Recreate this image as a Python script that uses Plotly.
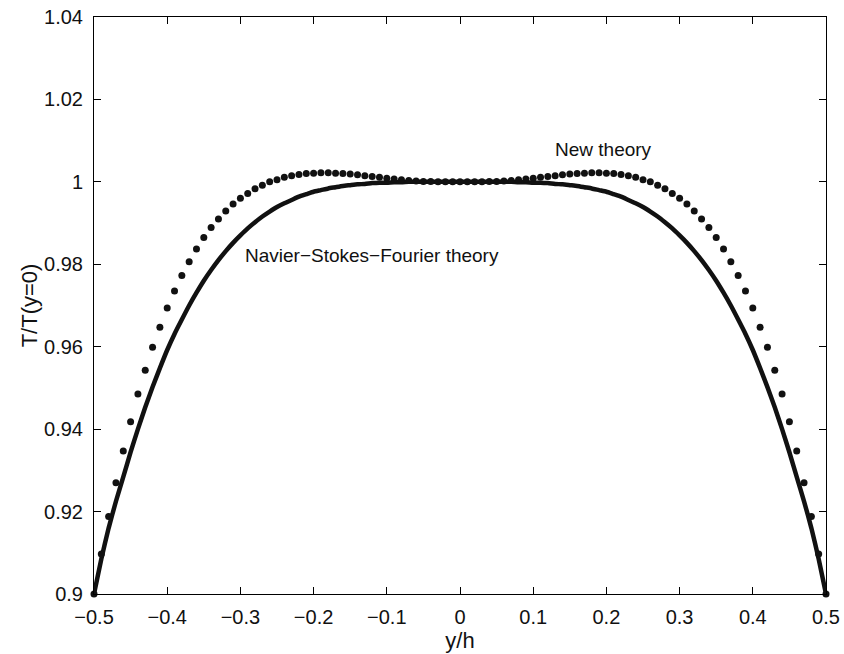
import plotly.graph_objects as go

# --- data ---
x_line = [-0.50, -0.49, -0.48, -0.47, -0.46, -0.45, -0.44, -0.43, -0.42, -0.41,
          -0.40, -0.39, -0.38, -0.37, -0.36, -0.35, -0.34, -0.33, -0.32, -0.31,
          -0.30, -0.29, -0.28, -0.27, -0.26, -0.25, -0.24, -0.23, -0.22, -0.21,
          -0.20, -0.19, -0.18, -0.17, -0.16, -0.15, -0.14, -0.13, -0.12, -0.11,
          -0.10, -0.09, -0.08, -0.07, -0.06, -0.05, -0.04, -0.03, -0.02, -0.01,
          0.00,
          0.01, 0.02, 0.03, 0.04, 0.05, 0.06, 0.07, 0.08, 0.09, 0.10,
          0.11, 0.12, 0.13, 0.14, 0.15, 0.16, 0.17, 0.18, 0.19, 0.20,
          0.21, 0.22, 0.23, 0.24, 0.25, 0.26, 0.27, 0.28, 0.29, 0.30,
          0.31, 0.32, 0.33, 0.34, 0.35, 0.36, 0.37, 0.38, 0.39, 0.40,
          0.41, 0.42, 0.43, 0.44, 0.45, 0.46, 0.47, 0.48, 0.49, 0.50]
nsf_T = [0.9000, 0.9085, 0.9160, 0.9225, 0.9284, 0.9344, 0.9400, 0.9453, 0.9502, 0.9548,
         0.9592, 0.9631, 0.9666, 0.9700, 0.9731, 0.9760, 0.9786, 0.9810, 0.9832, 0.9852,
         0.9870, 0.9887, 0.9902, 0.9916, 0.9928, 0.9939, 0.9948, 0.9956, 0.9964, 0.9970,
         0.9976, 0.9980, 0.9984, 0.9987, 0.9990, 0.9992, 0.9994, 0.9995, 0.9997, 0.9998,
         0.9998, 0.9999, 0.9999, 1.0000, 1.0000, 1.0000, 1.0000, 1.0000, 1.0000, 1.0000,
         1.0000,
         1.0000, 1.0000, 1.0000, 1.0000, 1.0000, 1.0000, 1.0000, 0.9999, 0.9999, 0.9998,
         0.9998, 0.9997, 0.9995, 0.9994, 0.9992, 0.9990, 0.9987, 0.9984, 0.9980, 0.9976,
         0.9970, 0.9964, 0.9956, 0.9948, 0.9939, 0.9928, 0.9916, 0.9902, 0.9887, 0.9870,
         0.9852, 0.9832, 0.9810, 0.9786, 0.9760, 0.9731, 0.9700, 0.9666, 0.9631, 0.9592,
         0.9548, 0.9502, 0.9453, 0.9400, 0.9344, 0.9284, 0.9225, 0.9160, 0.9085, 0.9000]

x_dots = list(x_line)
new_T = [0.9000, 0.9097, 0.9188, 0.9270, 0.9347, 0.9418, 0.9485, 0.9543, 0.9599, 0.9647,
         0.9694, 0.9735, 0.9773, 0.9806, 0.9837, 0.9865, 0.9889, 0.9910, 0.9929, 0.9946,
         0.9960, 0.9972, 0.9983, 0.9992, 1.0000, 1.0005, 1.0011, 1.0015, 1.0018, 1.0020,
         1.0021, 1.0022, 1.0022, 1.0021, 1.0020, 1.0019, 1.0017, 1.0015, 1.0013, 1.0011,
         1.0009, 1.0007, 1.0005, 1.0003, 1.0002, 1.0001, 1.0001, 1.0000, 1.0000, 1.0000,
         1.0000,
         1.0000, 1.0000, 1.0000, 1.0001, 1.0001, 1.0002, 1.0003, 1.0005, 1.0007, 1.0009,
         1.0011, 1.0013, 1.0015, 1.0017, 1.0019, 1.0020, 1.0021, 1.0022, 1.0022, 1.0021,
         1.0020, 1.0018, 1.0015, 1.0011, 1.0005, 1.0000, 0.9992, 0.9983, 0.9972, 0.9960,
         0.9946, 0.9929, 0.9910, 0.9889, 0.9865, 0.9837, 0.9806, 0.9773, 0.9735, 0.9694,
         0.9647, 0.9599, 0.9543, 0.9485, 0.9418, 0.9347, 0.9270, 0.9188, 0.9097, 0.9000]

x_tickvals = [-0.5, -0.4, -0.3, -0.2, -0.1, 0, 0.1, 0.2, 0.3, 0.4, 0.5]
x_ticktext = ["\u22120.5", "\u22120.4", "\u22120.3", "\u22120.2", "\u22120.1", "0",
              "0.1", "0.2", "0.3", "0.4", "0.5"]
y_tickvals = [0.9, 0.92, 0.94, 0.96, 0.98, 1.0, 1.02, 1.04]
y_ticktext = ["0.9", "0.92", "0.94", "0.96", "0.98", "1", "1.02", "1.04"]

FONT = "Liberation Sans, Arial, Helvetica, sans-serif"
INK = "#111111"

fig = go.Figure()
fig.add_trace(go.Scatter(
    x=x_line, y=nsf_T, mode="lines",
    line=dict(color=INK, width=4.5, shape="spline", smoothing=0.5),
    cliponaxis=False, showlegend=False, hoverinfo="skip"))
fig.add_trace(go.Scatter(
    x=x_dots, y=new_T, mode="markers",
    marker=dict(color=INK, size=7, line=dict(width=0)),
    cliponaxis=False, showlegend=False))

axis_common = dict(
    showgrid=False, zeroline=False, showline=True, linecolor="black", linewidth=1,
    mirror="ticks", ticks="inside", ticklen=7, tickwidth=1, tickcolor="black",
    tickfont=dict(family=FONT, size=20, color=INK), automargin=False,
    ticklabeloverflow="allow",
)
fig.update_xaxes(range=[-0.5, 0.5], tickvals=x_tickvals, ticktext=x_ticktext,
                 ticklabelstandoff=5,
                 title=dict(text="y/h", font=dict(family=FONT, size=22, color=INK), standoff=4),
                 **axis_common)
fig.update_yaxes(range=[0.9, 1.04], tickvals=y_tickvals, ticktext=y_ticktext,
                 ticklabelstandoff=6,
                 title=dict(text="T/T(y=0)", font=dict(family=FONT, size=22, color=INK), standoff=0),
                 **axis_common)

fig.add_annotation(x=0.1954, y=1.0078, text="New theory", showarrow=False,
                   xanchor="center", yanchor="middle",
                   font=dict(family=FONT, size=19, color=INK))
fig.add_annotation(x=-0.1202, y=0.9822, text="Navier\u2212Stokes\u2212Fourier theory", showarrow=False,
                   xanchor="center", yanchor="middle",
                   font=dict(family=FONT, size=19, color=INK))

fig.update_layout(
    width=844, height=654,
    margin=dict(l=94, r=18, t=17, b=60),
    paper_bgcolor="white", plot_bgcolor="white",
    font=dict(family=FONT, size=19, color=INK),
)

# remove the page's default body margin so the figure sits at the top-left corner
fig.write_html("out.html", config={"displayModeBar": False},
               post_script="document.body.style.margin='0';")
